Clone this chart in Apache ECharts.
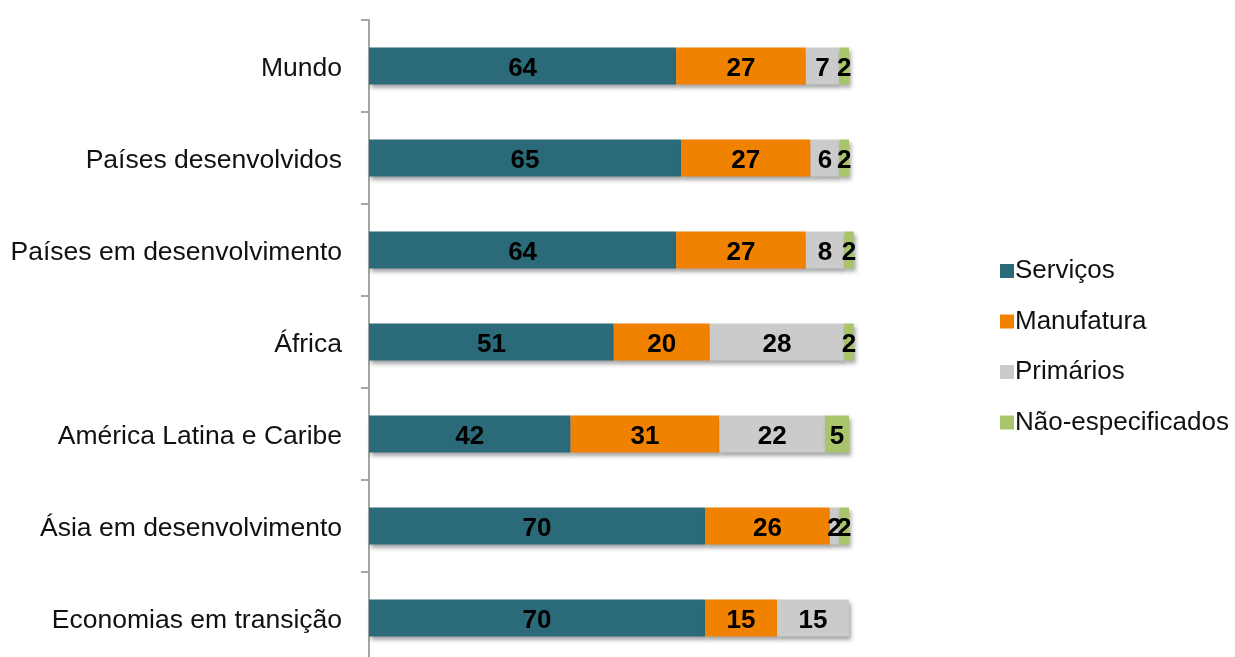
<!DOCTYPE html>
<html>
<head>
<meta charset="utf-8">
<script src="https://cdn.jsdelivr.net/npm/echarts@6/dist/echarts.min.js"></script>
<style>
  html, body { margin: 0; padding: 0; background: #ffffff; }
  #chart { width: 1235px; height: 657px; }
</style>
</head>
<body>
<div id="chart"></div>
<script>
// Regions, top to bottom
const regions = [
  'Mundo',
  'Países desenvolvidos',
  'Países em desenvolvimento',
  'África',
  'América Latina e Caribe',
  'Ásia em desenvolvimento',
  'Economias em transição'
];

// Share by sector (%)
const servicos = [64, 65, 64, 51, 42, 70, 70];
const manufatura = [27, 27, 27, 20, 31, 26, 15];
const primarios = [7, 6, 8, 28, 22, 2, 15];
const naoEspecificados = [2, 2, 2, 2, 5, 2, 0];

const sectorNames = ['Serviços', 'Manufatura', 'Primários', 'Não-especificados'];
const sectorValues = [servicos, manufatura, primarios, naoEspecificados];
const sectorColors = ['#2b6a78', '#f08200', '#cbcbcb', '#a9c56c'];

const FONT = '"Liberation Sans", Arial, sans-serif';

const series = sectorNames.map((name, i) => ({
  name: name,
  type: 'bar',
  stack: 'total',
  barWidth: 37,
  clip: false,
  data: sectorValues[i],
  itemStyle: {
    color: sectorColors[i],
    shadowColor: 'rgba(0,0,0,0.35)',
    shadowBlur: 4,
    shadowOffsetX: 2,
    shadowOffsetY: 3
  },
  label: {
    show: true,
    position: 'inside',
    offset: [0, 3],
    color: '#000000',
    fontFamily: FONT,
    fontWeight: 'bold',
    fontSize: 26,
    formatter: p => (p.value > 0 ? String(p.value) : '')
  }
}));

const chart = echarts.init(document.getElementById('chart'), null, { renderer: 'canvas' });
chart.setOption({
  animation: false,
  backgroundColor: '#ffffff',
  // the category axis runs a little past the bottom edge of the canvas
  grid: {
    left: 369, top: 20, width: 480, height: 644,
    containLabel: false,
    outerBoundsMode: 'none'
  },
  xAxis: {
    type: 'value',
    min: 0,
    max: 100,
    show: false
  },
  yAxis: {
    type: 'category',
    inverse: true,
    data: regions,
    axisLine: { show: true, lineStyle: { color: '#a6a6a6', width: 2 } },
    axisTick: { show: true, length: 8, lineStyle: { color: '#a6a6a6', width: 2 } },
    axisLabel: {
      margin: 27,
      formatter: v => '{r|' + v + '}',
      rich: {
        r: {
          color: '#111111',
          fontFamily: FONT,
          fontSize: 26.5,
          padding: [6, 0, 0, 0]
        }
      }
    },
    splitLine: { show: false }
  },
  legend: {
    orient: 'vertical',
    left: 995,
    top: 253,
    icon: 'rect',
    itemWidth: 14,
    itemHeight: 14,
    itemGap: 24.5,
    textStyle: {
      fontFamily: FONT,
      fontSize: 26,
      lineHeight: 26,
      color: '#111111',
      padding: [0, 0, 0, -4]
    },
    data: sectorNames
  },
  series: series
});
</script>
</body>
</html>
